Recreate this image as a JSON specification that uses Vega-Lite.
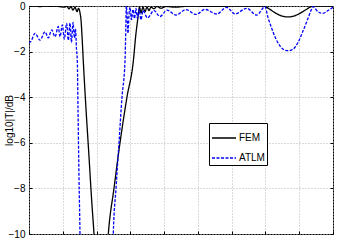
{
  "$schema": "https://vega.github.io/schema/vega-lite/v6.json",
  "width": 304,
  "height": 228,
  "autosize": {"type": "none"},
  "padding": {"left": 29, "top": 6, "right": 10, "bottom": 9},
  "background": "white",
  "config": {"view": {"stroke": "black", "strokeWidth": 1}, "font": "Liberation Sans"},
  "data": {"values": [
    {"s":"FEM","x":0,"y":-0.02},{"s":"FEM","x":0.178,"y":0},{"s":"FEM","x":0.326,"y":-0.03},{"s":"FEM","x":0.474,"y":0},
    {"s":"FEM","x":0.622,"y":-0.02},{"s":"FEM","x":0.77,"y":0},{"s":"FEM","x":0.918,"y":-0.03},{"s":"FEM","x":1.036,"y":-0.05},
    {"s":"FEM","x":1.125,"y":-0.02},{"s":"FEM","x":1.184,"y":-0.12},{"s":"FEM","x":1.243,"y":-0.03},{"s":"FEM","x":1.303,"y":-0.18},
    {"s":"FEM","x":1.362,"y":-0.05},{"s":"FEM","x":1.421,"y":-0.25},{"s":"FEM","x":1.465,"y":-0.1},{"s":"FEM","x":1.51,"y":-0.3},
    {"s":"FEM","x":1.539,"y":-0.6},{"s":"FEM","x":1.569,"y":-1.3},{"s":"FEM","x":1.607,"y":-2.4},{"s":"FEM","x":1.687,"y":-4.5},
    {"s":"FEM","x":1.776,"y":-6.6},{"s":"FEM","x":1.85,"y":-8.4},{"s":"FEM","x":1.924,"y":-10},{"s":"FEM","x":1.983,"y":-11.5},
    {"s":"FEM","x":2.279,"y":-11.5},{"s":"FEM","x":2.348,"y":-10},{"s":"FEM","x":2.516,"y":-8},{"s":"FEM","x":2.694,"y":-6},
    {"s":"FEM","x":2.9,"y":-4},{"s":"FEM","x":3.09,"y":-2.4},{"s":"FEM","x":3.16,"y":-1.3},{"s":"FEM","x":3.227,"y":-0.5},
    {"s":"FEM","x":3.271,"y":-0.05},{"s":"FEM","x":3.316,"y":-0.3},{"s":"FEM","x":3.375,"y":-0.05},{"s":"FEM","x":3.434,"y":-0.25},
    {"s":"FEM","x":3.493,"y":-0.05},{"s":"FEM","x":3.552,"y":-0.2},{"s":"FEM","x":3.612,"y":-0.05},{"s":"FEM","x":3.7,"y":-0.12},
    {"s":"FEM","x":3.789,"y":-0.02},{"s":"FEM","x":3.908,"y":-0.1},{"s":"FEM","x":4.056,"y":-0.02},{"s":"FEM","x":4.322,"y":-0.05},
    {"s":"FEM","x":4.766,"y":0},{"s":"FEM","x":5.358,"y":-0.02},{"s":"FEM","x":6.246,"y":0},{"s":"FEM","x":6.898,"y":0},
    {"s":"FEM","x":6.986,"y":-0.02},{"s":"FEM","x":7.134,"y":-0.15},{"s":"FEM","x":7.312,"y":-0.32},{"s":"FEM","x":7.49,"y":-0.44},
    {"s":"FEM","x":7.667,"y":-0.48},{"s":"FEM","x":7.845,"y":-0.44},{"s":"FEM","x":8.023,"y":-0.32},{"s":"FEM","x":8.2,"y":-0.16},
    {"s":"FEM","x":8.348,"y":-0.03},{"s":"FEM","x":8.408,"y":0},{"s":"FEM","x":8.615,"y":0},{"s":"FEM","x":9,"y":0},
    {"s":"ATLM","x":0,"y":-1.62},{"s":"ATLM","x":0.059,"y":-1.55},{"s":"ATLM","x":0.178,"y":-1.2},{"s":"ATLM","x":0.326,"y":-1.5},
    {"s":"ATLM","x":0.474,"y":-1.13},{"s":"ATLM","x":0.571,"y":-1.4},{"s":"ATLM","x":0.672,"y":-1.05},{"s":"ATLM","x":0.77,"y":-1.35},
    {"s":"ATLM","x":0.867,"y":-0.9},{"s":"ATLM","x":0.918,"y":-1.35},{"s":"ATLM","x":0.986,"y":-0.83},{"s":"ATLM","x":1.045,"y":-1.45},
    {"s":"ATLM","x":1.116,"y":-0.76},{"s":"ATLM","x":1.163,"y":-1.5},{"s":"ATLM","x":1.214,"y":-0.75},{"s":"ATLM","x":1.258,"y":-1.6},
    {"s":"ATLM","x":1.303,"y":-0.72},{"s":"ATLM","x":1.347,"y":-1.4},{"s":"ATLM","x":1.377,"y":-1.0},{"s":"ATLM","x":1.406,"y":-1.9},
    {"s":"ATLM","x":1.43,"y":-2.4},{"s":"ATLM","x":1.451,"y":-4.5},{"s":"ATLM","x":1.48,"y":-7.5},{"s":"ATLM","x":1.51,"y":-10},
    {"s":"ATLM","x":1.539,"y":-13},{"s":"ATLM","x":2.457,"y":-13},{"s":"ATLM","x":2.496,"y":-10},{"s":"ATLM","x":2.576,"y":-8},
    {"s":"ATLM","x":2.664,"y":-6},{"s":"ATLM","x":2.753,"y":-4},{"s":"ATLM","x":2.842,"y":-2.4},{"s":"ATLM","x":2.866,"y":-1},
    {"s":"ATLM","x":2.88,"y":0},{"s":"ATLM","x":2.901,"y":-0.3},{"s":"ATLM","x":2.931,"y":-1.2},{"s":"ATLM","x":2.96,"y":-0.4},
    {"s":"ATLM","x":2.99,"y":-0.05},{"s":"ATLM","x":3.034,"y":-0.6},{"s":"ATLM","x":3.079,"y":-0.15},{"s":"ATLM","x":3.123,"y":-0.55},
    {"s":"ATLM","x":3.167,"y":-0.1},{"s":"ATLM","x":3.212,"y":-0.55},{"s":"ATLM","x":3.256,"y":-0.15},{"s":"ATLM","x":3.316,"y":-0.6},
    {"s":"ATLM","x":3.375,"y":-0.2},{"s":"ATLM","x":3.508,"y":-0.52},{"s":"ATLM","x":3.7,"y":-0.2},{"s":"ATLM","x":3.878,"y":-0.46},
    {"s":"ATLM","x":4.085,"y":-0.18},{"s":"ATLM","x":4.352,"y":-0.4},{"s":"ATLM","x":4.648,"y":-0.16},{"s":"ATLM","x":4.944,"y":-0.37},
    {"s":"ATLM","x":5.21,"y":-0.15},{"s":"ATLM","x":5.557,"y":-0.35},{"s":"ATLM","x":5.853,"y":-0.06},{"s":"ATLM","x":6.098,"y":-0.35},
    {"s":"ATLM","x":6.445,"y":-0.1},{"s":"ATLM","x":6.741,"y":-0.4},{"s":"ATLM","x":6.986,"y":-0.03},{"s":"ATLM","x":7.075,"y":-0.5},
    {"s":"ATLM","x":7.185,"y":-0.98},{"s":"ATLM","x":7.312,"y":-1.45},{"s":"ATLM","x":7.43,"y":-1.75},{"s":"ATLM","x":7.549,"y":-1.92},
    {"s":"ATLM","x":7.676,"y":-1.96},{"s":"ATLM","x":7.815,"y":-1.9},{"s":"ATLM","x":7.963,"y":-1.6},{"s":"ATLM","x":8.111,"y":-1.1},
    {"s":"ATLM","x":8.259,"y":-0.55},{"s":"ATLM","x":8.348,"y":-0.2},{"s":"ATLM","x":8.408,"y":-0.03},{"s":"ATLM","x":8.556,"y":-0.25},
    {"s":"ATLM","x":8.704,"y":-0.32},{"s":"ATLM","x":8.852,"y":-0.2},{"s":"ATLM","x":9,"y":-0.05}
  ]},
  "layer": [
    {
      "mark": {"type": "line", "clip": true, "interpolate": "monotone", "strokeWidth": 1.3},
      "encoding": {
        "x": {"field": "x", "type": "quantitative",
              "scale": {"domain": [0, 9], "nice": false, "zero": false},
              "axis": {"values": [0,1,2,3,4,5,6,7,8,9], "labels": false, "title": null, "domain": false,
                       "tickSize": -3, "tickColor": "black", "grid": true, "gridColor": "#b4b4b4", "gridDash": [1, 2]}},
        "y": {"field": "y", "type": "quantitative",
              "scale": {"domain": [-10, 0], "nice": false, "zero": false},
              "axis": {"values": [-10,-8,-6,-4,-2,0], "title": "log10|T|/dB", "titleFontSize": 10, "titleFontWeight": "normal",
                       "titleColor": "black", "titleX": -15, "domain": false,
                       "tickSize": -3, "tickColor": "black", "labelPadding": 7, "labelFontSize": 10, "labelColor": "black",
                       "grid": true, "gridColor": "#b4b4b4", "gridDash": [1, 2]}},
        "color": {"field": "s", "type": "nominal", "sort": ["FEM", "ATLM"],
                  "scale": {"domain": ["FEM", "ATLM"], "range": ["black", "#0000ff"]},
                  "legend": {"title": null, "orient": "none", "legendX": 180, "legendY": 117,
                             "strokeColor": "black", "fillColor": "white", "padding": 2, "rowPadding": 2,
                             "symbolType": "stroke", "symbolSize": 576, "symbolStrokeWidth": 1.3,
                             "labelFontSize": 10, "labelColor": "black", "labelOffset": 2,
                             "labelExpr": "datum.label + '\u00a0\u00a0\u00a0\u00a0\u00a0\u00a0\u00a0\u00a0\u00a0\u00a0'"}},
        "strokeDash": {"field": "s", "type": "nominal", "sort": ["FEM", "ATLM"],
                       "scale": {"domain": ["FEM", "ATLM"], "range": [[1, 0], [3, 1.5]]},
                       "legend": {"title": null, "orient": "none", "legendX": 180, "legendY": 117,
                             "strokeColor": "black", "fillColor": "white", "padding": 2, "rowPadding": 2,
                             "symbolType": "stroke", "symbolSize": 576, "symbolStrokeWidth": 1.3,
                             "labelFontSize": 10, "labelColor": "black", "labelOffset": 2,
                             "labelExpr": "datum.label + '\u00a0\u00a0\u00a0\u00a0\u00a0\u00a0\u00a0\u00a0\u00a0\u00a0'"}}
      }
    },
    {
      "mark": {"type": "point", "opacity": 0, "clip": true},
      "encoding": {
        "y": {"field": "y", "type": "quantitative",
              "scale": {"domain": [-10, 0], "nice": false, "zero": false},
              "axis": {"orient": "right", "values": [-10,-8,-6,-4,-2,0], "labels": false, "title": null,
                       "domain": false, "grid": false, "tickSize": -3, "tickColor": "black"}}
      }
    }
  ],
  "resolve": {"scale": {"y": "independent"}, "axis": {"y": "independent"}}
}
